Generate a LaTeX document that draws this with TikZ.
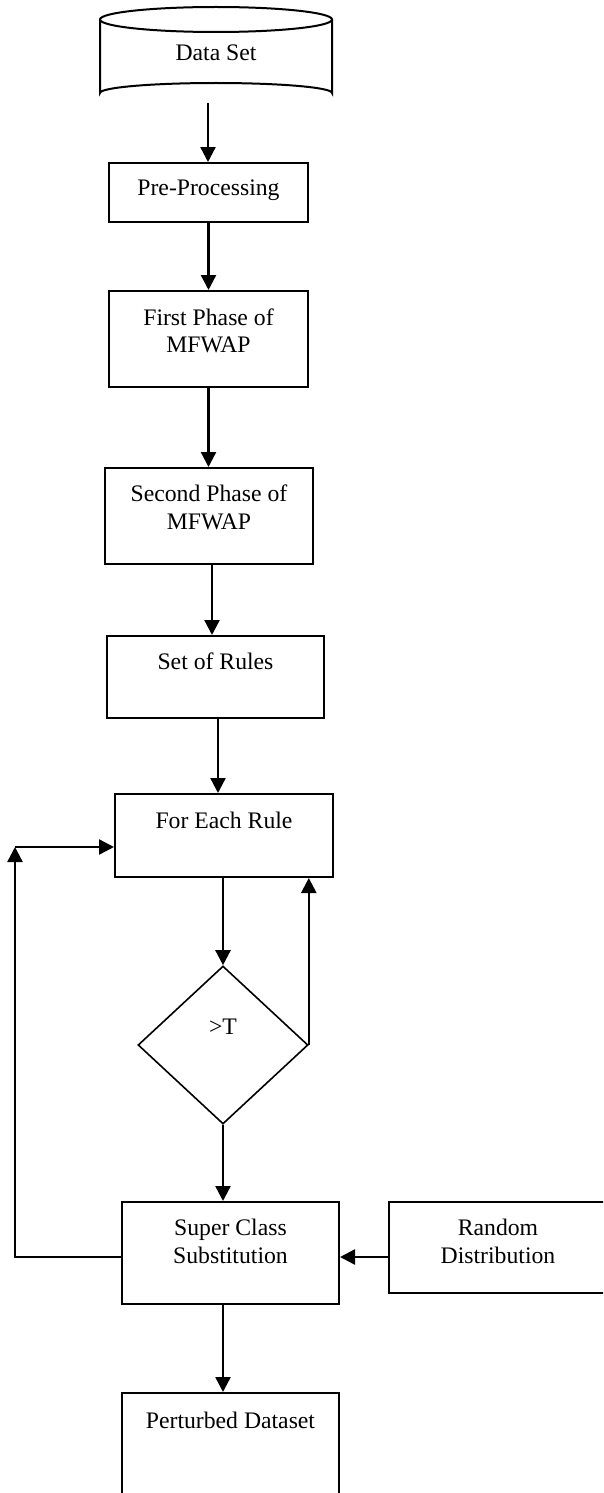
\documentclass[tikz,border=0pt]{standalone}
\usepackage{fontspec}
\setmainfont{Liberation Serif}
\usetikzlibrary{arrows.meta,shapes.geometric}
\begin{document}
\begin{tikzpicture}[x=1pt,y=-1pt,
  every node/.style={font=\fontsize{23.7}{27.5}\selectfont},
  box/.style={draw,line width=2pt,inner sep=0pt},
  lbl/.style={align=center,inner sep=0pt},
  arr/.style={line width=2.4pt,-{Triangle[length=15pt,width=15pt]}},
  ln/.style={line width=2.4pt}]
\useasboundingbox (0,0) rectangle (603,1493);
\clip (0,0) rectangle (603,1493);
% cylinder
\draw[line width=2pt] (100,19.5) -- (100,93) arc[start angle=180,end angle=360,x radius=116,y radius=10] -- (332,19.5);
\draw[line width=2pt] (216,19.5) ellipse[x radius=116,y radius=12.5];
\node[lbl] (ds) at (216,53) {Data Set};
\coordinate (dsb) at (208,103);
% boxes
\draw[box] (109,163) rectangle (308,222) node[pos=0.5,inner sep=0pt,minimum width=199pt,minimum height=59pt] (pp) {};
\node[lbl] (ppt) at (208.5,190) {Pre-Processing};
\draw[box] (109,291) rectangle (308,387) node[pos=0.5,inner sep=0pt,minimum width=199pt,minimum height=96pt] (fp) {};
\node[lbl] (fpt) at (208.5,331) {First Phase of\\MFWAP};
\draw[box] (105,468) rectangle (313,564) node[pos=0.5,inner sep=0pt,minimum width=208pt,minimum height=96pt] (sp) {};
\node[lbl] (spt) at (209,507.5) {Second Phase of\\MFWAP};
\draw[box] (107,636) rectangle (324,718) node[pos=0.5,inner sep=0pt,minimum width=217pt,minimum height=82pt] (sr) {};
\node[lbl] (srt) at (215.5,661) {Set of Rules};
\draw[box] (115,794) rectangle (333,877) node[pos=0.5,inner sep=0pt,minimum width=218pt,minimum height=83pt] (fe) {};
\node[lbl] (fet) at (224,820) {For Each Rule};
\node[diamond,draw,line width=1.6pt,inner sep=0pt,minimum width=170pt,minimum height=158pt] (dia) at (223,1045) {};
\node[lbl] (diat) at (223,1027) {>T};
\draw[box] (122,1202) rectangle (339,1304) node[pos=0.5,inner sep=0pt,minimum width=217pt,minimum height=102pt] (sc) {};
\node[lbl] (sct) at (230.5,1241.5) {Super Class\\Substitution};
\draw[box] (389,1202) rectangle (607,1293) node[pos=0.5,inner sep=0pt,minimum width=218pt,minimum height=91pt] (rd) {};
\node[lbl] (rdt) at (498,1241.5) {Random\\Distribution};
\draw[box] (122,1393) rectangle (339,1510) node[pos=0.5,inner sep=0pt,minimum width=217pt,minimum height=117pt] (pd) {};
\node[lbl] (pdt) at (230.5,1420) {Perturbed Dataset};
% connectors
\draw[arr] (dsb) -- (dsb |- pp.north);
\draw[arr] (pp.south) -- (pp.south |- fp.north);
\draw[arr] (fp.south) -- (fp.south |- sp.north);
\draw[arr] ([xshift=3pt]sp.south) -- ([xshift=3pt]sp.south |- sr.north);
\draw[arr] ([xshift=2.5pt]sr.south) -- ([xshift=2.5pt]sr.south |- fe.north);
\draw[arr] (fe.south -| dia.north) -- (dia.north);
\draw[arr] (dia.east) -- (dia.east |- fe.south);
\draw[arr] (dia.south) -- (dia.south |- sc.north);
\coordinate (yl) at (0,1257);
\coordinate (loopl) at (15,1257);
\coordinate (loopt) at (15,847);
\draw[arr] (rd.west |- yl) -- (sc.east |- yl);
\draw[arr,line join=miter] (sc.west |- yl) -- (loopl) -- (loopt);
\draw[arr] (loopt) -- (loopt -| fe.west);
\draw[arr] (sc.south -| dia.south) -- (dia.south |- pd.north);
\end{tikzpicture}
\end{document}
